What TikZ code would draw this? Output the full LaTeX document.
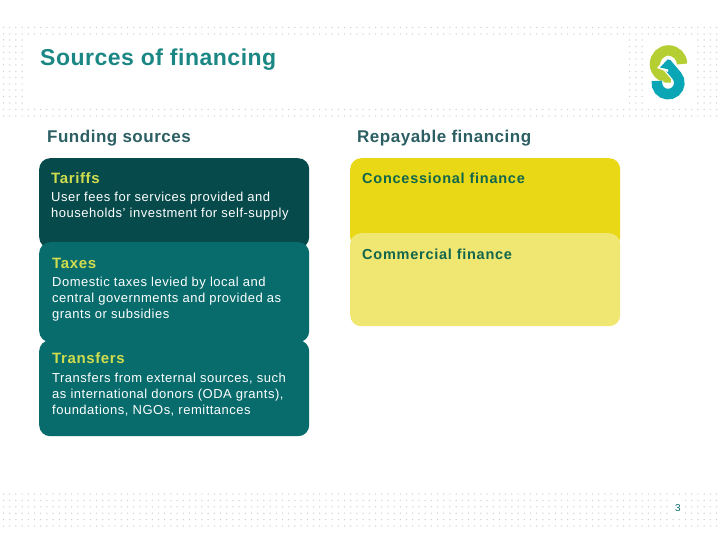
\documentclass[tikz,border=0pt]{standalone}
\usepackage{fontspec}
\setmainfont{Liberation Sans}
\definecolor{titleteal}{HTML}{1B8784}
\definecolor{headteal}{HTML}{2C5F63}
\definecolor{darkpanel}{HTML}{064A4B}
\definecolor{midpanel}{HTML}{086B6C}
\definecolor{lime}{HTML}{CFDD4E}
\definecolor{strongyellow}{HTML}{E8D816}
\definecolor{paleyellow}{HTML}{F0E672}
\definecolor{greentext}{HTML}{12664B}
\definecolor{logogreen}{HTML}{B5CF32}
\definecolor{logoteal}{HTML}{0BA6B5}
\definecolor{dotgrey}{HTML}{CFD2D2}
\tikzset{
  panel/.style={rounded corners=11pt, minimum width=270pt, anchor=north west, inner sep=0pt},
  heading/.style={anchor=base west, inner sep=0pt, text=headteal, font=\fontsize{17}{20}\selectfont\bfseries\addfontfeature{LetterSpace=3}},
  panelhead/.style={anchor=base west, inner sep=0pt, text=lime, font=\fontsize{15}{17}\selectfont\bfseries\addfontfeature{LetterSpace=4.2}},
  paneltext/.style={anchor=north west, inner sep=0pt, text=white, align=left, font=\fontsize{13}{16.4}\selectfont\addfontfeature{LetterSpace=3.85}},
  financehead/.style={anchor=base west, inner sep=0pt, text=greentext, font=\fontsize{14.5}{17}\selectfont\bfseries\addfontfeature{LetterSpace=5.2}},
  griddot/.style={fill=dotgrey},
}
\begin{document}
\begin{tikzpicture}[x=1pt, y=-1pt]
    \useasboundingbox (0,0) rectangle (720,540);
    \fill [white] (0,0) rectangle (720,540);

    % Draw dot bands
    \foreach \row in {40,46.5,52.5,59,65,71.5,77.5,84,90,96.5,103} {
      \foreach \col in {0,...,3,101,102,103,112,113,114,115} {
        \fill [griddot] ({3.5+6.2*\col},\row) circle (0.75pt);
      }
    }
    \foreach \row in {27.5,34,109.5,116} {
      \foreach \col in {0,...,115} {
        \fill [griddot] ({3.5+6.2*\col},\row) circle (0.75pt);
      }
    }
    \foreach \row in {494,500.4,506.8,513.2,519.6,526} {
      \foreach \col in {0,...,115} {
        \fill [griddot] ({3.5+6.2*\col},\row) circle (0.75pt);
      }
    }

    % Draw logo
    \coordinate (gs) at (682,64);
    \coordinate (ts) at (666,63);
    \coordinate (tb) at (676.7,75.6);
    \draw [line width=10.5pt, logogreen] (gs) arc (0:280:13.5pt);
    \draw [line width=13pt, white] (ts) -- (tb) arc (40:-190:11.3pt);
    \draw [line width=10.5pt, logoteal] (ts) -- (tb) arc (40:-190:11.3pt);
    \fill [white] (668,55) -- (657,68) -- (668,72) -- cycle;
    \fill [logoteal] (668,59) -- (660,67.5) -- (676,71) -- cycle;

    % Draw panels
    \node [panel, fill=darkpanel, minimum height=90pt] (tariffs) at (39,158) {};
    \node [panel, fill=midpanel, minimum height=100pt] (taxes) at (39,242) {};
    \node [panel, fill=midpanel, minimum height=96pt] (transfers) at (39,340) {};
    \node [panel, fill=strongyellow, minimum height=90pt] (concessional) at (350,158) {};
    \node [panel, fill=paleyellow, minimum height=93pt] (commercial) at (350,233) {};

    % Draw texts
    \node [anchor=base west, inner sep=0pt, text=titleteal, font=\fontsize{23}{27}\selectfont\bfseries\addfontfeature{LetterSpace=2.2}] (title) at (40,65.5) {Sources of financing};
    \node [heading] (lfunding) at (47,142.5) {Funding sources};
    \node [heading] (lrepayable) at (357,142.5) {Repayable financing};

    \node [panelhead] (ltariffs) at (51,184) {Tariffs};
    \node [paneltext] (ttariffs) at (51,191.5) {User fees for services provided and\\households' investment for self-supply};
    \node [panelhead] (ltaxes) at (52,268.5) {Taxes};
    \node [paneltext] (ttaxes) at (52,276.5) {Domestic taxes levied by local and\\central governments and provided as\\grants or subsidies};
    \node [panelhead] (ltransfers) at (52,363) {Transfers};
    \node [paneltext] (ttransfers) at (52,372.5) {Transfers from external sources, such\\as international donors (ODA grants),\\foundations, NGOs, remittances};

    \node [financehead] (lconcessional) at (362,184) {Concessional finance};
    \node [financehead] (lcommercial) at (362,259.5) {Commercial finance};

    % Draw page number
    \fill [white] (672,499) rectangle (685,515);
    \node [anchor=base, inner sep=0pt, text=midpanel, font=\fontsize{10}{12}\selectfont] (pagenum) at (678,511) {3};
\end{tikzpicture}
\end{document}
